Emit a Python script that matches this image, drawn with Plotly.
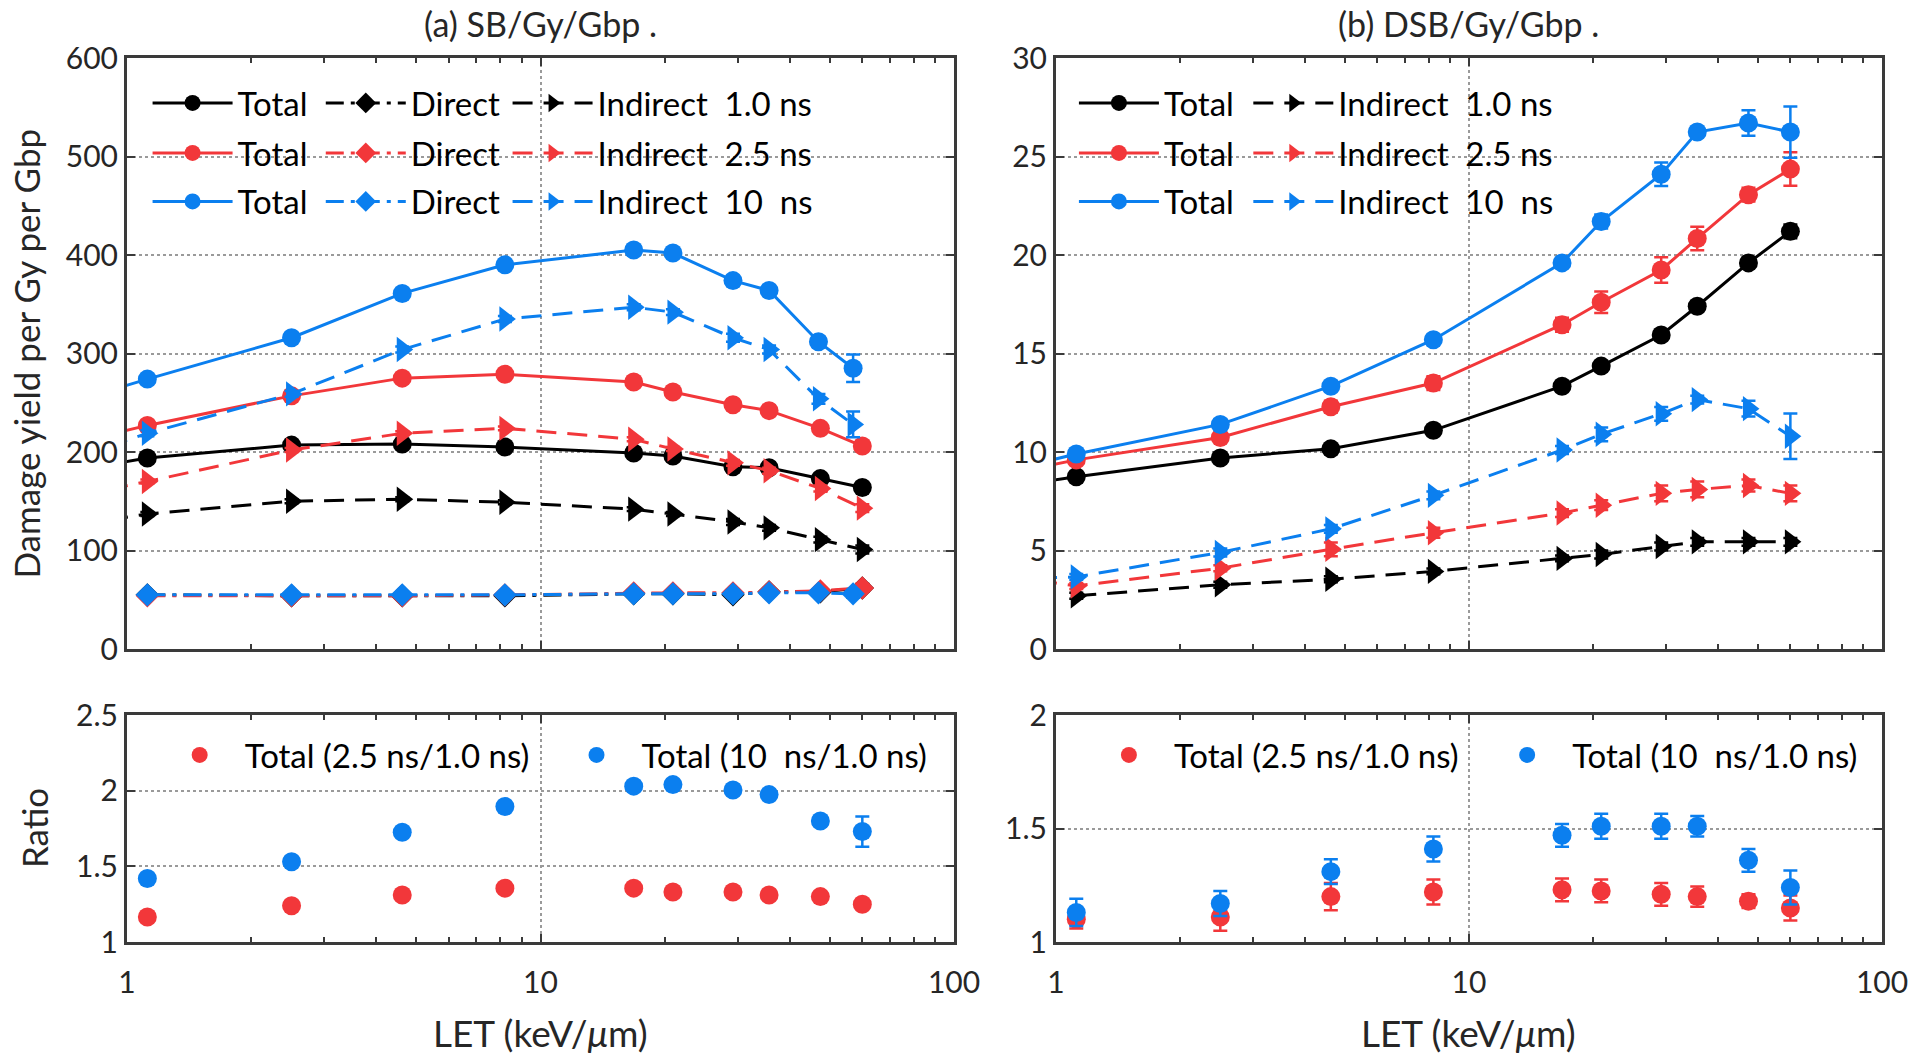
import plotly.graph_objects as go

# ---------------- data ----------------
LET = [1.12, 2.5, 4.63, 8.2, 16.8, 20.9, 29.2, 35.7, 47.5, 60.0]
LET_A_10NS = [1.12, 2.5, 4.63, 8.2, 16.8, 20.9, 29.2, 35.7, 47.0, 57.0]
LET_LEAD = 0.9

# (a) SB/Gy/Gbp
SB_TOTAL_1 = [194, 207, 208, 205, 199, 196, 185, 184, 173, 164]
SB_TOTAL_25 = [227, 257, 275, 279, 271, 261, 248, 242, 224, 206]
SB_TOTAL_10 = [274, 316, 361, 390, 405, 402, 374, 364, 312, 285]
SB_DIRECT_1 = [55, 54, 54, 54, 56, 56, 55, 58, 58, 62]
SB_DIRECT_25 = [54, 54, 54, 55, 57, 57, 57, 58, 59, 62]
SB_DIRECT_10 = [55, 55, 55, 55, 56, 56, 56, 57, 57, 56]
SB_IND_1 = [137, 150, 152, 149, 142, 137, 129, 123, 111, 101]
SB_IND_25 = [170, 202, 219, 224, 213, 203, 189, 181, 163, 143]
SB_IND_10 = [219, 259, 304, 335, 347, 342, 316, 304, 254, 228]
SB_ERR_TOTAL_10 = [3, 3, 3, 3, 3, 3, 4, 4, 5, 14]
SB_ERR_IND_10 = [3, 3, 3, 3, 3, 3, 4, 4, 5, 13]
SB_ERR_SMALL = [2, 2, 2, 2, 2, 2, 3, 3, 3, 4]
SB_LEAD_TOTAL = [187, 217.5, 262]      # 1.0, 2.5, 10 ns (LET < 1)
SB_LEAD_IND = [131, 162, 205.5]

# (b) DSB/Gy/Gbp
DSB_TOTAL_1 = [8.74, 9.7, 10.16, 11.1, 13.34, 14.36, 15.94, 17.4, 19.6, 21.2]
DSB_TOTAL_25 = [9.6, 10.74, 12.3, 13.5, 16.46, 17.6, 19.24, 20.84, 23.06, 24.36]
DSB_TOTAL_10 = [9.9, 11.4, 13.34, 15.7, 19.6, 21.7, 24.1, 26.24, 26.7, 26.24]
DSB_IND_1 = [2.7, 3.26, 3.54, 3.94, 4.6, 4.8, 5.2, 5.44, 5.44, 5.44]
DSB_IND_25 = [3.2, 4.1, 5.06, 5.9, 6.9, 7.3, 7.9, 8.1, 8.3, 7.9]
DSB_IND_10 = [3.66, 4.9, 6.1, 7.8, 10.1, 10.9, 11.94, 12.66, 12.2, 10.8]
DSB_ERR_TOTAL_1 = [0.2, 0.2, 0.2, 0.2, 0.2, 0.2, 0.25, 0.25, 0.2, 0.35]
DSB_ERR_TOTAL_25 = [0.2, 0.2, 0.3, 0.35, 0.35, 0.55, 0.65, 0.6, 0.35, 0.85]
DSB_ERR_TOTAL_10 = [0.2, 0.25, 0.2, 0.2, 0.2, 0.35, 0.6, 0.2, 0.65, 1.3]
DSB_ERR_IND_1 = [0.15, 0.15, 0.15, 0.15, 0.15, 0.2, 0.2, 0.2, 0.2, 0.2]
DSB_ERR_IND_25 = [0.15, 0.15, 0.35, 0.25, 0.2, 0.25, 0.4, 0.4, 0.3, 0.4]
DSB_ERR_IND_10 = [0.15, 0.2, 0.2, 0.2, 0.2, 0.35, 0.35, 0.2, 0.4, 1.15]
DSB_LEAD_TOTAL = [8.46, 9.2, 9.42]
DSB_LEAD_IND = [None, 3.48, 3.6]

# Ratios
RATIO_A_25 = [1.165, 1.24, 1.31, 1.356, 1.356, 1.33, 1.33, 1.31, 1.30, 1.25]
RATIO_A_10 = [1.42, 1.53, 1.725, 1.895, 2.03, 2.04, 2.004, 1.974, 1.80, 1.73]
RATIO_A_ERR_25 = [0.01, 0.01, 0.01, 0.01, 0.01, 0.01, 0.015, 0.015, 0.015, 0.025]
RATIO_A_ERR_10 = [0.01, 0.01, 0.01, 0.01, 0.015, 0.02, 0.03, 0.02, 0.03, 0.1]
RATIO_B_25 = [1.10, 1.11, 1.20, 1.22, 1.23, 1.225, 1.21, 1.20, 1.18, 1.15]
RATIO_B_10 = [1.13, 1.17, 1.31, 1.41, 1.47, 1.51, 1.51, 1.51, 1.36, 1.24]
RATIO_B_ERR_25 = [0.04, 0.06, 0.06, 0.055, 0.05, 0.05, 0.05, 0.045, 0.03, 0.055]
RATIO_B_ERR_10 = [0.06, 0.055, 0.055, 0.055, 0.05, 0.055, 0.055, 0.045, 0.05, 0.075]

TIMES = ["1.0", "2.5", "10\u00a0"]
COLORS = ["#000000", "#F2373A", "#0B7FEF"]

# ---------------- layout geometry ----------------
W, H = 1920, 1060
PL, PR, PT, PB = 127, 1884, 58, 942          # plot block in pixels
L, T, R, B = PL, PT, W - PR, H - PB
PW, PH = PR - PL, PB - PT

FONT = "Lato"
TICKFONT = "Liberation Sans Narrow, Arial Narrow, Lato"
AXC = "#3a3a3a"
TXC = "#262626"


def px(x):
    return (x - PL) / PW


def py(y):
    return (PB - y) / PH


fig = go.Figure()
DASH_IND = "20px,11px"
DASH_DIR = "18px,7px,4px,7px"


def add_line(xaxis, yaxis, x, y, err, color, dash, symbol, size, name, legend, lead=None):
    xs, ys, es = list(x), list(y), list(err)
    if lead is not None:
        xs = [LET_LEAD] + xs
        ys = [lead] + ys
        es = [0] + es
    fig.add_trace(go.Scatter(
        x=xs, y=ys, mode="lines+markers", name=name, legend=legend,
        xaxis=xaxis, yaxis=yaxis,
        line=dict(color=color, width=3, dash=dash),
        marker=dict(symbol=symbol, size=size, color=color),
        error_y=dict(type="data", array=es, width=7, thickness=2.5, color=color),
    ))


legends = {}
n_leg = [0]


def new_legend(text_x, y_center, size=33):
    n_leg[0] += 1
    key = "legend" if n_leg[0] == 1 else "legend%d" % n_leg[0]
    legends[key] = dict(
        x=px(text_x - 90), y=py(y_center), xanchor="left", yanchor="middle",
        xref="paper", yref="paper",
        bgcolor="rgba(0,0,0,0)", borderwidth=0, itemwidth=80,
        font=dict(family=FONT, size=size, color="#000000"),
        orientation="h", tracegroupgap=0,
    )
    return key


ROW_Y = [103, 153, 201.5]

# Panel (a)
A_TOTAL = [SB_TOTAL_1, SB_TOTAL_25, SB_TOTAL_10]
A_DIRECT = [SB_DIRECT_1, SB_DIRECT_25, SB_DIRECT_10]
A_IND = [SB_IND_1, SB_IND_25, SB_IND_10]
A_ERR_T = [SB_ERR_SMALL, SB_ERR_SMALL, SB_ERR_TOTAL_10]
A_ERR_I = [SB_ERR_SMALL, SB_ERR_SMALL, SB_ERR_IND_10]
for i in range(3):
    xs = LET_A_10NS if i == 2 else LET
    c = COLORS[i]
    add_line("x", "y", xs, A_TOTAL[i], A_ERR_T[i], c, "solid", "circle", 19,
             "Total", new_legend(237.6, ROW_Y[i]), SB_LEAD_TOTAL[i])
    add_line("x", "y", xs, A_DIRECT[i], SB_ERR_SMALL, c, DASH_DIR, "diamond", 18,
             "Direct", new_legend(411, ROW_Y[i]))
    add_line("x", "y", xs, A_IND[i], A_ERR_I[i], c, DASH_IND, "triangle-right", 22,
             "Indirect\u00a0\u00a0" + TIMES[i] + "\u00a0ns", new_legend(598, ROW_Y[i]),
             SB_LEAD_IND[i])

# Panel (b)
B_TOTAL = [DSB_TOTAL_1, DSB_TOTAL_25, DSB_TOTAL_10]
B_IND = [DSB_IND_1, DSB_IND_25, DSB_IND_10]
B_ERR_T = [DSB_ERR_TOTAL_1, DSB_ERR_TOTAL_25, DSB_ERR_TOTAL_10]
B_ERR_I = [DSB_ERR_IND_1, DSB_ERR_IND_25, DSB_ERR_IND_10]
for i in range(3):
    c = COLORS[i]
    add_line("x2", "y2", LET, B_TOTAL[i], B_ERR_T[i], c, "solid", "circle", 19,
             "Total", new_legend(1165, ROW_Y[i]), DSB_LEAD_TOTAL[i])
    add_line("x2", "y2", LET, B_IND[i], B_ERR_I[i], c, DASH_IND, "triangle-right", 22,
             "Indirect\u00a0\u00a0" + TIMES[i] + "\u00a0ns", new_legend(1339.6, ROW_Y[i]),
             DSB_LEAD_IND[i])


def add_ratio(xaxis, yaxis, y, err, color, name, legend):
    fig.add_trace(go.Scatter(
        x=LET, y=y, mode="markers", name=name, legend=legend,
        xaxis=xaxis, yaxis=yaxis,
        marker=dict(symbol="circle", size=19, color=color),
        error_y=dict(type="data", array=err, width=7, thickness=2.5, color=color),
    ))


RATIO_Y = 755
add_ratio("x3", "y3", RATIO_A_25, RATIO_A_ERR_25, COLORS[1],
          "Total (2.5 ns/1.0 ns)", new_legend(244.7, RATIO_Y, 33))
add_ratio("x3", "y3", RATIO_A_10, RATIO_A_ERR_10, COLORS[2],
          "Total (10\u00a0\u00a0ns/1.0 ns)", new_legend(642, RATIO_Y, 33))
add_ratio("x4", "y4", RATIO_B_25, RATIO_B_ERR_25, COLORS[1],
          "Total (2.5 ns/1.0 ns)", new_legend(1175, RATIO_Y, 33))
add_ratio("x4", "y4", RATIO_B_10, RATIO_B_ERR_10, COLORS[2],
          "Total (10\u00a0\u00a0ns/1.0 ns)", new_legend(1573.7, RATIO_Y, 33))

# ---------------- axes ----------------
common = dict(
    showline=True, linewidth=3, linecolor=AXC, mirror="allticks",
    ticks="inside", ticklen=8, tickwidth=2, tickcolor=AXC,
    showgrid=True, gridcolor="#9a9a9a", griddash="dot", gridwidth=2,
    zeroline=False, tickfont=dict(family=TICKFONT, size=30, color=TXC),
)
minor_vals = [2, 3, 4, 5, 6, 7, 8, 9, 20, 30, 40, 50, 60, 70, 80, 90]
xcommon = dict(common, type="log", range=[0, 2], tickvals=[1, 10, 100],
               ticktext=["1", "10", "100"],
               minor=dict(tickvals=minor_vals, ticks="inside", ticklen=5,
                          tickwidth=2, tickcolor=AXC, showgrid=False))

XA = [0, px(955)]
XB = [px(1057), 1]
YTOP = [py(649), 1]
YBOT = [0, py(715)]

fig.update_layout(
    width=W, height=H,
    margin=dict(l=L, r=R, t=T, b=B, pad=0),
    paper_bgcolor="white", plot_bgcolor="white",
    font=dict(family=FONT, size=32, color=TXC),
    xaxis=dict(xcommon, domain=XA, anchor="y", showticklabels=False),
    xaxis2=dict(xcommon, domain=XB, anchor="y2", showticklabels=False),
    xaxis3=dict(xcommon, domain=XA, anchor="y3", ticklabelstandoff=12),
    xaxis4=dict(xcommon, domain=XB, anchor="y4", ticklabelstandoff=12),
    yaxis=dict(common, domain=YTOP, anchor="x", range=[0, 600], dtick=100),
    yaxis2=dict(common, domain=YTOP, anchor="x2", range=[0, 30], dtick=5),
    yaxis3=dict(common, domain=YBOT, anchor="x3", range=[1, 2.5], dtick=0.5),
    yaxis4=dict(common, domain=YBOT, anchor="x4", range=[1, 2], dtick=0.5),
    showlegend=True,
    **legends,
)


def label(x, y, text, size, angle=0):
    fig.add_annotation(xref="paper", yref="paper", showarrow=False,
                       x=px(x), y=py(y), text=text, textangle=angle,
                       xanchor="center", yanchor="middle",
                       font=dict(family=FONT, size=size, color=TXC))


label(541, 24, "(a) SB/Gy/Gbp .", 34)
label(1470.5, 24, "(b) DSB/Gy/Gbp .", 34)
label(25, 353.5, "Damage yield per Gy per Gbp", 35, -90)
label(34, 828, "Ratio", 35, -90)
label(541, 1032, "LET (keV/<i>\u03bc</i>m)", 37)
label(1470.5, 1032, "LET (keV/<i>\u03bc</i>m)", 37)

fig.write_html("out.html", config={"displayModeBar": False},
               post_script="document.body.style.margin='0px';")
